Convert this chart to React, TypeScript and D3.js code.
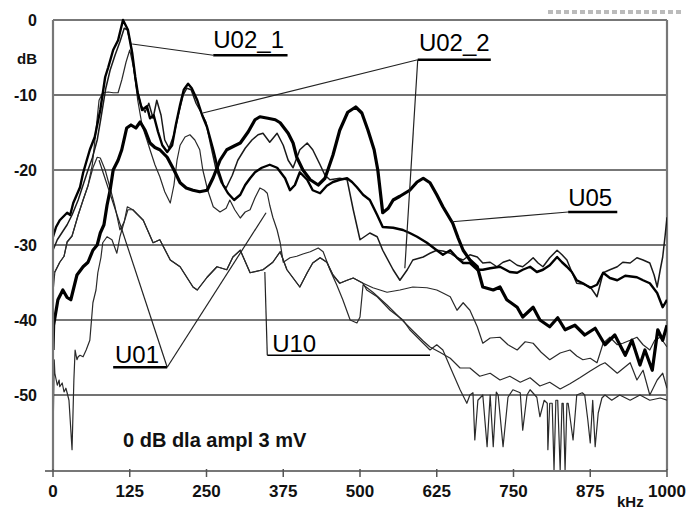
import React from 'react';
import * as d3 from 'd3';

// ---- data (kHz, dB) ----
const xTickValues = [0, 125, 250, 375, 500, 625, 750, 875, 1000];
const yTickValues = [0, -10, -20, -30, -40, -50];
const yTickLabels = ['0', '-10', '-20', '-30', '-40', '-50'];

const U05: [number, number][] = [
  [0,-44],[1,-40.7],[8,-37.3],[16,-36],[23,-37],[29,-37.3],[39,-34],[49,-32.9],[57,-32.3],[65,-30.7],[72,-30],[77,-28.4],[83,-27.3],[88,-24.7],[93,-22.7],[98,-20],[106,-18.7],[112,-17.3],[120,-14.4],[127,-14],[135,-14.4],[142,-13.6],[150,-14.7],[158,-16.4],[166,-17],[174,-17.3],[186,-18.3],[197,-20],[207,-21.7],[217,-22.4],[228,-22.7],[239,-22.9],[251,-22.7],[261,-21],[272,-18.7],[283,-17.3],[295,-16.8],[305,-16.4],[318,-14.9],[329,-13.3],[337,-12.9],[350,-13.1],[362,-13.3],[370,-13.7],[383,-15.1],[391,-16.4],[397,-18.3],[407,-20],[419,-21.3],[432,-22],[443,-21.1],[456,-18],[467,-14.7],[480,-12.3],[493,-11.6],[503,-12.4],[513,-14.7],[523,-17.3],[529,-20],[537,-25.7],[546,-25.1],[554,-24],[565,-23.5],[581,-22.7],[593,-21.6],[603,-21.1],[614,-21.7],[625,-23.3],[635,-24.9],[643,-26],[651,-27.1],[660,-29.1],[668,-30.7],[679,-32],[691,-32.9],[700,-35.6],[717,-36],[728,-35.6],[739,-37.3],[756,-38.3],[765,-39.6],[782,-38.3],[793,-40],[809,-40.9],[822,-39.7],[834,-41.3],[850,-40.7],[866,-42],[883,-41.1],[899,-43.3],[915,-42],[932,-44.7],[943,-42.7],[956,-46],[964,-44],[976,-46.7],[985,-41.3],[993,-42.7],[1000,-40.7]
];

const U02_1: [number, number][] = [
  [0,-28.9],[5,-27.6],[11,-26.7],[23,-25.7],[28,-26],[33,-24.4],[44,-22.3],[49,-20.4],[55,-18.7],[60,-17.3],[68,-15.6],[77,-12],[85,-7.6],[90,-6.3],[98,-4],[106,-2.7],[114,0],[122,-1.3],[129,-4.4],[134,-7.6],[138,-9.7],[145,-12],[153,-11.5],[158,-13.1],[164,-12.7],[171,-14.9],[178,-16.7],[186,-17.6],[194,-16.7],[200,-14],[207,-11.3],[213,-9.3],[220,-8.5],[226,-9.1],[235,-10.7],[243,-12.7],[251,-14.3],[261,-17.3],[269,-20],[277,-22],[285,-23.1],[295,-24],[305,-23.3],[313,-22],[321,-21.1],[329,-20.3],[340,-19.7],[353,-19.3],[365,-19.7],[378,-21.1],[386,-22.7],[394,-22],[402,-20.3],[414,-21.3],[423,-22.7],[435,-23.1],[446,-22.1],[456,-21.6],[467,-21.3],[479,-21.1],[487,-21.6],[495,-22.3],[505,-23.3],[516,-24],[528,-26],[537,-27.6],[554,-27.7],[570,-28],[581,-28.4],[593,-28.9],[609,-29.7],[625,-30.7],[635,-31.3],[647,-30.7],[658,-31.7],[668,-32.4],[679,-32.4],[691,-33.3],[700,-33.3],[712,-33.1],[728,-32.9],[744,-33.6],[756,-33.7],[765,-33.3],[777,-32.9],[788,-33.6],[798,-33.3],[809,-32.7],[821,-31.6],[829,-32.3],[837,-32.9],[845,-33.6],[853,-34.7],[863,-35.1],[875,-35.7],[886,-35.3],[896,-33.7],[907,-34.4],[919,-34.7],[932,-34.1],[951,-34.3],[961,-34.7],[972,-35.1],[984,-36.4],[993,-38.3],[1000,-37.3]
];

const U02_2: [number, number][] = [
  [0,-30.7],[7,-29.3],[15,-28.3],[23,-27.3],[31,-26],[41,-24],[49,-22],[57,-20],[64,-18.4],[72,-16],[78,-13.1],[86,-9.1],[93,-6.7],[101,-4.7],[109,-2.9],[116,-1.1],[121,-1.3],[127,-3.3],[132,-6.7],[137,-9.3],[143,-11.3],[150,-12.3],[156,-11.1],[163,-13.1],[169,-10.7],[176,-12.7],[182,-16],[189,-17.1],[197,-15.3],[205,-12.3],[212,-10],[218,-9.1],[225,-9.3],[233,-11.1],[241,-12.3],[249,-13.6],[257,-16.7],[265,-19.7],[274,-21.7],[282,-22.4],[292,-20.7],[301,-18.7],[313,-17.1],[324,-16],[334,-15.3],[342,-15.1],[353,-16.3],[365,-15.1],[375,-16.7],[383,-18.7],[391,-19.7],[402,-17.3],[414,-16.4],[423,-17.3],[435,-19.3],[443,-20.7],[451,-21.3],[467,-21.1],[479,-21.3],[489,-25.3],[500,-29.3],[516,-28.4],[528,-28.9],[537,-30.7],[554,-33.3],[565,-34.7],[577,-33.3],[586,-32],[603,-31.6],[614,-31.1],[625,-30.7],[635,-30.8],[647,-31.1],[658,-31.7],[668,-32],[679,-31.3],[691,-31.6],[700,-32.4],[712,-32.3],[723,-32.9],[733,-32.3],[744,-32],[756,-32.7],[765,-32.9],[774,-32.3],[782,-31.7],[790,-32.4],[798,-32.9],[809,-31.7],[821,-30.7],[829,-31.3],[837,-32],[845,-33.6],[853,-35.1],[863,-35.2],[875,-35.6],[881,-36.3],[886,-36.9],[896,-33.7],[907,-33.3],[919,-32.9],[928,-32.3],[940,-32.4],[951,-31.7],[961,-32],[972,-32.4],[979,-34],[984,-35.6],[989,-33.3],[993,-31.6],[997,-28.7],[1000,-26.3]
];

const U01a: [number, number][] = [
  [0,-33.6],[3,-33.6],[11,-32.3],[18,-31.5],[23,-29.6],[31,-28.8],[41,-26],[49,-24],[57,-22.1],[64,-19.3],[70,-14.7],[75,-10.7],[81,-9.7],[90,-9.6],[98,-9.7],[106,-9.7],[112,-8],[119,-5.6],[125,-4],[132,-6.7],[138,-10.7],[145,-14],[153,-16],[158,-17.3],[166,-19.3],[174,-20.9],[182,-22.9],[191,-24.4],[197,-22],[202,-18.7],[207,-16.7],[215,-15.6],[223,-15.3],[231,-16],[239,-17.3],[244,-20],[252,-22.7],[261,-24.9],[272,-25.6],[282,-25.1],[288,-24],[296,-25.3],[305,-26.4],[313,-25.6],[321,-25.3],[329,-23.7],[337,-22.4],[344,-22.7],[349,-23.1],[353,-24.7],[358,-26.3],[365,-28],[370,-29.7],[375,-32.3],[386,-31.7],[397,-31.5],[407,-31.2],[419,-30.9],[432,-30.4],[440,-30.9],[451,-33.3],[462,-35.3],[472,-37.3],[484,-40],[495,-40.4],[500,-39.6],[505,-35.3],[521,-36.3],[544,-38],[560,-39.3],[577,-40.7],[593,-42],[603,-42.8],[614,-43.6],[630,-44.3],[647,-45.1],[663,-46.4],[679,-46.4],[695,-47.5],[712,-47.1],[728,-48],[744,-47.5],[761,-48.3],[777,-47.7],[793,-48.8],[809,-48.3],[826,-49.2],[842,-48.5],[858,-47.7],[875,-46.8],[891,-46],[899,-45.7],[919,-47.1],[940,-45.7],[951,-48],[961,-46.7],[972,-50],[984,-48],[993,-47.1],[1000,-49.1]
];

const U01b: [number, number][] = [
  [0,-36.3],[3,-33.6],[11,-32.3],[18,-31.5],[23,-29.6],[31,-28.8],[41,-26],[49,-24],[57,-22.1],[65,-19.7],[72,-18.3],[77,-18.4],[85,-20],[93,-22.4],[101,-24.9],[109,-28],[116,-26.9],[122,-25.3],[130,-25.3],[147,-26.7],[163,-29.7],[174,-29.3],[191,-32],[207,-32.9],[228,-35.6],[235,-36],[251,-34.3],[267,-32.9],[283,-33.3],[293,-31.6],[305,-30.7],[321,-33.7],[342,-33.3],[358,-32.3],[370,-30.9],[381,-33.3],[402,-35.6],[414,-33.7],[423,-32.4],[435,-31.7],[446,-32.3],[456,-34],[467,-35.1],[479,-34.7],[489,-34.4],[505,-35.1],[521,-35.7],[544,-36.3],[565,-36],[586,-35.6],[609,-35.7],[625,-36],[635,-36.4],[647,-36.9],[658,-38.7],[668,-37.7],[679,-38.7],[691,-40.9],[700,-43.1],[712,-42.4],[728,-42.3],[741,-43.3],[756,-44],[769,-42.9],[782,-43.1],[795,-44.3],[809,-45.3],[826,-44.4],[842,-44],[853,-44.8],[863,-45.3],[875,-45.1],[886,-45.7],[896,-43.1],[907,-42.3],[919,-43.3],[928,-43.1],[940,-42.7],[951,-42.3],[961,-43.3],[972,-44],[980,-42.7],[989,-42.3],[1000,-43.6]
];

const U10: [number, number][] = [
  [0,-55.6],[2,-45.3],[3,-47.1],[7,-48.7],[10,-48],[11,-48.9],[15,-48.4],[18,-49.6],[21,-49.1],[23,-49.7],[26,-50.7],[28,-53.3],[31,-57.3],[34,-48],[36,-44],[39,-45.3],[41,-44.9],[44,-44.7],[49,-44.9],[54,-44],[60,-42.7],[65,-37.7],[70,-36],[73,-33.7],[78,-31.7],[81,-29.7],[88,-28.9],[96,-29.3],[104,-31.1],[109,-28.9],[116,-26.9],[121,-24.9],[130,-25.3],[147,-26.7],[163,-29.7],[174,-29.3],[191,-32],[207,-32.9],[228,-35.6],[235,-36],[251,-34.3],[267,-32.9],[283,-33.3],[293,-31.6],[305,-30.7],[321,-33.7],[342,-33.3],[358,-32.3],[370,-30.9],[381,-33.3],[402,-35.6],[414,-33.7],[423,-32.4],[435,-31.7],[446,-32.3],[456,-34],[467,-35.1],[479,-34.7],[489,-34.4],[505,-35.1],[511,-36],[528,-36.9],[549,-38.7],[570,-40],[581,-41.3],[603,-43.1],[614,-44],[625,-43.3],[635,-44],[647,-46.3],[663,-49.3],[674,-51.1],[679,-50],[684,-49.7],[687,-56],[692,-50.7],[700,-50],[707,-56.9],[712,-50],[717,-56.9],[722,-49.6],[725,-50],[733,-56.9],[741,-50.3],[749,-49.3],[761,-49.7],[765,-54.7],[772,-50],[777,-49.3],[788,-50.3],[793,-52.9],[800,-50.7],[805,-51.1],[806,-57.3],[809,-51.1],[813,-51.1],[816,-60],[819,-50.7],[822,-50.7],[826,-60],[829,-51.1],[831,-51.1],[834,-60],[837,-51.1],[839,-51.1],[847,-56],[853,-50],[862,-49.7],[866,-50],[871,-53.3],[875,-56.4],[879,-50.7],[883,-56.9],[888,-52.4],[894,-50.4],[899,-50],[910,-50.7],[923,-50],[940,-50.7],[956,-50],[972,-50.7],[989,-50.4],[1000,-50.7]
];

// annotation anchors in data units (kHz, dB)
const annotations = [
  { text: 'U02_1', at: [261, -3.7], line: [261, 382, -4.7], from: 'start', to: [[129, -3.2]] },
  { text: 'U02_2', at: [596, -4.1], line: [594, 713, -5.3], from: 'start', to: [[244, -12.4], [573, -33.1]] },
  { text: 'U05', at: [839, -24.8], line: [839, 919, -25.6], from: 'start', to: [[650, -26.9]] },
  { text: 'U01', at: [101, -45.7], line: [98, 186, -46.3], from: 'end', to: [[75, -18.7], [347, -25.7]] },
  { text: 'U10', at: [357, -44.2], line: [349, 614, -44.7], from: 'start', to: [[345, -33.6]] },
];

const W = 689, H = 510;
const x = d3.scaleLinear().domain([0, 1000]).range([53, 667]);
const y = d3.scaleLinear().domain([-60, 0]).range([470, 20]);
const line = d3.line<[number, number]>().x(d => x(d[0])).y(d => y(d[1]));

const seriesStyles = [
  { data: U10, w: 1.2, c: '#2a2a2a' },
  { data: U01a, w: 1.2, c: '#2a2a2a' },
  { data: U01b, w: 1.2, c: '#2a2a2a' },
  { data: U02_2, w: 1.5, c: '#1a1a1a' },
  { data: U02_1, w: 2.4, c: '#000' },
  { data: U05, w: 3.2, c: '#000' },
];

export default function App() {
  const font = 'Liberation Sans, Arial, Helvetica, sans-serif';
  return (
    <div style={{ position: 'absolute', left: 0, top: 0 }}>
      <svg width={W} height={H} style={{ display: 'block', background: '#fff' }}>
        <defs>
          <clipPath id="plot">
            <rect x={x(0)} y={y(0) - 2} width={x(1000) - x(0)} height={y(-60) - y(0) + 2} />
          </clipPath>
        </defs>
        {/* faint header remnant */}
        <line x1={548} x2={683} y1={12} y2={12} stroke="#bbb" strokeWidth={4} strokeDasharray="5 3" />
        {/* grid */}
        {yTickValues.filter(v => v < 0).map(v => (
          <line key={v} x1={x(0)} x2={x(1000)} y1={y(v)} y2={y(v)}
            stroke={v === -20 || v === -40 ? '#777' : '#444'} strokeWidth={v === -20 || v === -40 ? 2.2 : 1.4} />
        ))}
        {/* frame */}
        <line x1={x(0)} x2={x(1000)} y1={y(0)} y2={y(0)} stroke="#777" strokeWidth={2.2} />
        <line x1={x(1000)} x2={x(1000)} y1={y(0)} y2={y(-60)} stroke="#777" strokeWidth={2.2} />
        {/* series */}
        <g clipPath="url(#plot)" fill="none" strokeLinejoin="round">
          {seriesStyles.map((s, i) => (
            <path key={i} d={line(s.data) || ''} stroke={s.c} strokeWidth={s.w} />
          ))}
        </g>
        {/* axes */}
        <line x1={x(0)} x2={x(0)} y1={y(0)} y2={y(-60) + 1} stroke="#777" strokeWidth={2.2} />
        <line x1={x(0) - 8} x2={x(1000)} y1={y(-60) + 1} y2={y(-60) + 1} stroke="#777" strokeWidth={2.2} />
        {xTickValues.map(v => (
          <g key={v}>
            <line x1={x(v)} x2={x(v)} y1={y(-60) - 1} y2={y(-60) + 7} stroke="#555" strokeWidth={1.5} />
            <text x={x(v)} y={497} textAnchor="middle" fontFamily={font} fontWeight="bold" fontSize={17} fill="#111">{v}</text>
          </g>
        ))}
        {yTickValues.map((v, i) => (
          <text key={v} x={37} y={y(v) + 6} textAnchor="end" fontFamily={font} fontWeight="bold" fontSize={16} fill="#111">{yTickLabels[i]}</text>
        ))}
        <text x={37} y={y(-5) + 6} textAnchor="end" fontFamily={font} fontWeight="bold" fontSize={15} fill="#111">dB</text>
        <text x={617} y={507} fontFamily={font} fontWeight="bold" fontSize={15} fill="#111">kHz</text>
        <text x={x(114)} y={y(-56.9)} fontFamily={font} fontWeight="bold" fontSize={20} fill="#111">0 dB dla ampl 3 mV</text>
        {/* annotations */}
        {annotations.map(a => {
          const sx = a.from === 'start' ? a.line[0] : a.line[1];
          return (
            <g key={a.text}>
              <text x={x(a.at[0])} y={y(a.at[1])} fontFamily={font} fontSize={24} fill="#000">{a.text}</text>
              <line x1={x(a.line[0])} x2={x(a.line[1])} y1={y(a.line[2])} y2={y(a.line[2])} stroke="#000" strokeWidth={a.text === 'U10' ? 1.6 : 2.6} />
              {a.to.map((t, j) => (
                <line key={j} x1={x(sx)} y1={y(a.line[2])} x2={x(t[0])} y2={y(t[1])} stroke="#222" strokeWidth={1.2} />
              ))}
            </g>
          );
        })}
      </svg>
    </div>
  );
}
